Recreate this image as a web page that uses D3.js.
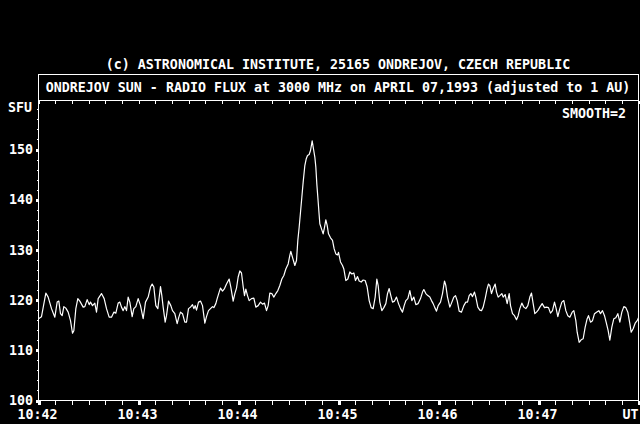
<!DOCTYPE html>
<html>
<head>
<meta charset="utf-8">
<script src="https://cdn.jsdelivr.net/npm/d3@7"></script>
<style>
  body { margin: 0; background: #000; }
  svg { display: block; }
  text { font-family: "DejaVu Sans Mono", monospace; font-size: 13.3px; font-weight: bold; fill: #fff; }
</style>
</head>
<body>
<div id="vis"></div>
<script>
// Frame
const FRAME_WIDTH = 640;
const FRAME_HEIGHT = 424;
const MARGINS = { left: 38.5, right: 1.5, top: 100.5, bottom: 23.5 };

// Text
const CREDIT = "(c) ASTRONOMICAL INSTITUTE, 25165 ONDREJOV, CZECH REPUBLIC";
const TITLE = "ONDREJOV SUN - RADIO FLUX at 3000 MHz on APRIL 07,1993 (adjusted to 1 AU)";
const UNIT = "SFU";
const NOTE = "SMOOTH=2";

// Axis ticks (x in seconds after 10:42:00 UT)
const X_MAJOR = [0, 60, 120, 180, 240, 300, 360];
const X_LABELS = ["10:42", "10:43", "10:44", "10:45", "10:46", "10:47", "UT"];
const Y_MAJOR = [100, 110, 120, 130, 140, 150];

// Flux samples [seconds after 10:42:00, SFU], one line per minute
const min42 = [[0,116.3],[1.8,116.7],[4.4,121.4],[5.8,120.6],[7.8,118.3],[9.8,116.6],[11.2,119.6],[12.2,119.8],[13.2,117.3],[14.2,116.9],[15.2,118.7],[16.4,118.4],[17.8,117.6],[19.2,115.9],[20.4,113.4],[21.2,113.9],[22.4,118.3],[23.6,120.3],[24.8,119.8],[26.8,118.6],[27.8,118.7],[29.2,120.1],[30.4,119.1],[31.2,119.6],[32.4,118.9],[33.8,119.4],[34.8,117.6],[35.8,120.3],[37.8,121.3],[39.4,120.3],[40.8,118.3],[42.4,116.6],[43.8,116.6],[45.2,117.6],[46.4,117.4],[47.8,119.4],[48.8,119.6],[49.8,118.6],[50.8,117.9],[51.8,118.7],[52.8,117.9],[53.8,120.6],[54.8,119.6],[56.2,116.7],[57.2,118.3],[58.4,118.7],[59.8,120.3]];
const min43 = [[61.2,118.9],[62.8,116.3],[64.2,119.6],[65.8,120.6],[67.2,122.6],[68.2,123.2],[69.2,122.6],[70.4,118.9],[71.6,118.3],[73.2,122.7],[74.0,120.9],[74.8,118.6],[76.0,115.6],[76.8,116.9],[78.0,119.8],[79.4,118.9],[80.4,117.9],[81.8,117.3],[83.2,115.3],[84.2,116.6],[85.2,117.6],[86.4,117.3],[87.8,115.6],[88.8,115.6],[90.0,118.3],[91.2,118.6],[92.4,119.1],[93.2,118.3],[94.0,118.9],[94.8,118.0],[96.0,119.6],[97.2,119.8],[98.4,118.9],[99.8,115.4],[100.8,116.7],[102.0,117.9],[103.2,118.3],[104.4,118.7],[105.2,118.5],[106.4,119.3],[107.2,120.3],[108.4,121.6],[109.2,122.4],[110.4,121.8],[111.6,122.3],[112.8,123.2],[114.4,124.2],[115.4,122.6],[116.8,119.8],[117.8,121.3]];
const min44 = [[118.8,122.4],[119.8,124.6],[120.8,125.8],[121.8,125.4],[122.8,122.7],[123.6,120.9],[124.4,122.2],[125.4,120.9],[126.4,119.9],[127.8,120.3],[129.2,120.4],[130.4,118.6],[131.8,118.9],[133.2,119.6],[134.4,119.2],[135.6,119.4],[136.8,117.9],[137.8,118.9],[138.8,121.4],[140.0,121.3],[141.2,120.6],[142.4,121.3],[143.6,121.9],[144.8,122.9],[146.0,124.2],[147.2,124.9],[148.4,126.2],[149.8,127.2],[150.8,128.9],[151.4,129.7],[152.4,128.5],[153.8,126.9],[154.8,127.9],[155.6,131.9],[156.4,134.5],[157.2,137.5],[158.0,140.5],[158.8,143.5],[159.8,146.8],[160.6,148.1],[161.4,148.8],[162.4,149.0],[163.2,149.8],[164.2,151.7],[165.0,150.1],[165.8,148.5],[166.4,146.5],[167.0,143.1],[167.6,140.5],[168.2,137.8],[168.8,135.2],[169.8,134.2],[170.8,133.2],[171.6,134.5],[172.4,136.0],[173.2,134.9],[174.0,133.2],[175.2,132.4],[176.4,131.9],[177.4,130.2],[178.4,129.2]];
const min45 = [[179.4,129.0],[180.0,129.5],[181.2,127.6],[182.4,126.9],[183.2,126.2],[184.4,123.9],[185.6,124.2],[186.8,125.6],[188.0,125.2],[189.2,125.4],[190.2,123.9],[191.4,124.7],[192.4,123.8],[193.6,123.6],[194.8,124.0],[196.0,123.9],[197.2,122.6],[198.4,119.9],[199.6,118.5],[200.8,118.3],[202.0,120.6],[203.0,124.2],[203.8,122.9],[204.8,119.6],[206.0,117.9],[207.2,118.5],[208.4,119.3],[209.4,121.3],[210.4,122.3],[211.4,120.9],[212.4,119.6],[213.6,119.8],[214.8,120.6],[216.0,119.3],[217.2,118.3],[218.4,117.6],[219.4,118.9],[220.4,119.9],[221.6,120.3],[222.8,121.9],[224.0,119.9],[225.2,120.6],[226.4,119.1],[227.8,119.3],[229.2,120.3],[230.4,121.6],[231.2,122.1],[232.4,121.3],[233.6,120.9],[234.8,120.6],[235.8,119.9],[236.8,119.3],[237.8,118.5],[238.8,117.8],[239.8,118.9]];
const min46 = [[241.2,119.6],[242.4,121.3],[243.6,123.8],[244.4,122.9],[245.4,120.6],[246.8,118.6],[247.8,119.4],[249.2,120.6],[250.2,120.9],[251.2,119.9],[252.4,117.8],[253.8,117.6],[255.2,118.9],[256.4,119.6],[257.4,119.6],[258.4,120.9],[259.4,121.3],[260.4,120.7],[261.6,121.6],[262.4,120.6],[263.6,118.6],[264.8,118.0],[265.8,117.9],[266.8,118.6],[268.0,120.3],[269.2,122.3],[270.0,123.2],[270.8,122.9],[271.8,121.3],[272.8,122.3],[274.0,123.2],[274.8,121.6],[275.8,120.6],[276.8,120.9],[278.0,121.3],[278.8,120.6],[280.0,121.1],[281.2,119.3],[282.4,121.3],[283.2,118.9],[284.4,117.3],[285.6,116.9],[286.8,116.1],[287.8,116.9],[288.8,118.3],[290.0,119.4],[291.2,118.6],[292.4,118.3],[293.6,118.9],[294.8,120.6],[295.8,121.4],[296.8,119.3],[297.8,117.3],[298.8,117.6],[299.8,118.0]];
const min47 = [[300.8,118.6],[302.2,119.3],[303.6,118.5],[304.8,118.6],[306.0,118.5],[307.2,117.4],[308.4,117.9],[309.6,119.6],[310.6,118.3],[311.6,116.7],[312.8,118.3],[314.0,119.6],[315.2,119.9],[316.4,117.9],[317.6,116.9],[318.8,116.6],[320.2,117.6],[321.2,117.9],[322.4,115.9],[323.2,113.6],[324.4,111.6],[325.6,112.1],[326.8,112.3],[328.0,114.6],[329.2,116.3],[330.0,116.9],[331.2,115.6],[332.4,115.9],[333.6,117.3],[334.8,117.6],[336.2,117.9],[337.2,117.3],[338.4,117.9],[339.6,116.9],[340.8,115.3],[341.8,113.9],[342.8,112.0],[344.0,114.6],[345.2,116.3],[346.4,116.5],[347.6,117.3],[348.8,115.6],[350.0,117.6],[351.2,118.7],[352.4,118.5],[353.6,117.6],[354.8,115.3],[355.6,113.6],[356.8,114.3],[358.0,115.4],[359.2,115.9],[360,116.5]];

const flux = [].concat(min42, min43, min44, min45, min46, min47);

const SVG = d3.select("#vis")
    .append("svg")
    .attr("width", FRAME_WIDTH)
    .attr("height", FRAME_HEIGHT)
    .style("background", "#000");

// scales
const X_SCALE = d3.scaleLinear()
    .domain([0, 360])
    .range([MARGINS.left, FRAME_WIDTH - MARGINS.right]);

const Y_SCALE = d3.scaleLinear()
    .domain([100, 100 + (FRAME_HEIGHT - MARGINS.bottom - MARGINS.top) / 5.02])
    .range([FRAME_HEIGHT - MARGINS.bottom, MARGINS.top]);

const BOTTOM = FRAME_HEIGHT - MARGINS.bottom;
const RIGHT = FRAME_WIDTH - MARGINS.right;

// header texts
SVG.append("text")
    .attr("x", 338).attr("y", 69)
    .attr("text-anchor", "middle")
    .text(CREDIT);

SVG.append("rect")
    .attr("x", MARGINS.left).attr("y", 74.5)
    .attr("width", RIGHT - MARGINS.left).attr("height", MARGINS.top - 74.5)
    .attr("fill", "none").attr("stroke", "#fff")
    .attr("shape-rendering", "crispEdges");

SVG.append("text")
    .attr("x", 338).attr("y", 92)
    .attr("text-anchor", "middle")
    .text(TITLE);

// axes helper: strips the domain path and whitens tick lines
function styleAxis(g, width) {
    g.select(".domain").remove();
    g.selectAll(".tick line")
        .attr("stroke", "#fff")
        .attr("stroke-width", width)
        .attr("shape-rendering", "crispEdges");
    g.selectAll(".tick text").remove();
}

const X_MINOR = d3.range(0, 361, 10);
const Y_MINOR = d3.range(100, 160, 2);

// bottom ticks
SVG.append("g")
    .attr("transform", `translate(0,${BOTTOM})`)
    .call(d3.axisBottom(X_SCALE).tickValues(X_MINOR).tickSize(4))
    .call(g => styleAxis(g, 1));
SVG.append("g")
    .attr("transform", `translate(0,${BOTTOM})`)
    .call(d3.axisBottom(X_SCALE).tickValues(X_MAJOR).tickSize(4))
    .call(g => styleAxis(g, 3));

// top ticks
SVG.append("g")
    .attr("transform", `translate(0,${MARGINS.top})`)
    .call(d3.axisBottom(X_SCALE).tickValues(X_MINOR).tickSize(3))
    .call(g => styleAxis(g, 1));

// left ticks
SVG.append("g")
    .attr("transform", `translate(${MARGINS.left},0)`)
    .call(d3.axisLeft(Y_SCALE).tickValues(Y_MINOR).tickSize(2))
    .call(g => styleAxis(g, 1));
SVG.append("g")
    .attr("transform", `translate(${MARGINS.left},0)`)
    .call(d3.axisLeft(Y_SCALE).tickValues(Y_MAJOR).tickSize(3))
    .call(g => styleAxis(g, 3));

// plot frame
SVG.append("rect")
    .attr("x", MARGINS.left).attr("y", MARGINS.top)
    .attr("width", RIGHT - MARGINS.left).attr("height", BOTTOM - MARGINS.top)
    .attr("fill", "none").attr("stroke", "#fff")
    .attr("shape-rendering", "crispEdges");

// tick labels
SVG.selectAll(".xlab")
    .data(X_MAJOR)
    .enter()
    .append("text")
    .attr("class", "xlab")
    .attr("x", (d, i) => i === X_MAJOR.length - 1 ? X_SCALE(d) : X_SCALE(d) - 1)
    .attr("y", 419)
    .attr("text-anchor", (d, i) => i === X_MAJOR.length - 1 ? "end" : "middle")
    .text((d, i) => X_LABELS[i]);

SVG.selectAll(".ylab")
    .data(Y_MAJOR)
    .enter()
    .append("text")
    .attr("class", "ylab")
    .attr("x", 33)
    .attr("y", (d) => Y_SCALE(d))
    .attr("dy", "0.36em")
    .attr("text-anchor", "end")
    .text((d) => d);

SVG.append("text").attr("x", 8).attr("y", 112).text(UNIT);
SVG.append("text").attr("x", 626).attr("y", 118).attr("text-anchor", "end").text(NOTE);

// flux curve
const line = d3.line()
    .x((d) => X_SCALE(d[0]))
    .y((d) => Y_SCALE(d[1]));

SVG.append("path")
    .datum(flux)
    .attr("d", line)
    .attr("fill", "none")
    .attr("stroke", "#fff")
    .attr("stroke-width", 1.2)
    .attr("stroke-linejoin", "round");
</script>
</body>
</html>
